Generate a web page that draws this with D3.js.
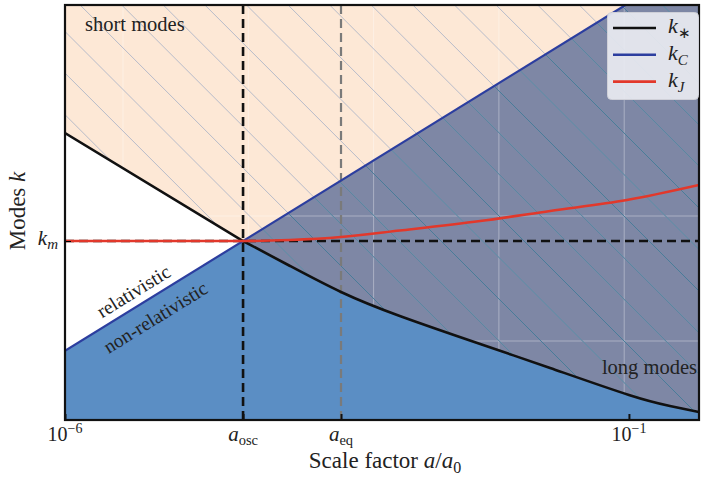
<!DOCTYPE html>
<html>
<head>
<meta charset="utf-8">
<script src="https://cdn.jsdelivr.net/npm/d3@7"></script>
<style>
  body { margin: 0; background: #fff; }
  svg { display: block; font-family: "Liberation Serif", "Times New Roman", serif; }
</style>
</head>
<body>
<svg id="chart" width="701" height="477"></svg>
<script>
// Scale factor markers and axis extent (a / a0)
const aMin = 1e-6, aMax = 0.418;
const aOsc = 3.79e-5, aEq = 2.8e-4;
// Wavenumber extent in units of k_m
const kMin = 0.00268, kMax = 2460, kM = 1;

// k_* : horizon-crossing scale, before and after oscillations start
const kStarEarlyA = [1e-6, 3.79e-5];
const kStarEarlyK = [35.6, 1];
const kStarLateA = [3.79e-5, 9.9e-5, 2.8e-4, 9.3e-4, 4.8e-3, 0.020, 0.1, 0.231, 0.418];
const kStarLateK = [1, 0.4375, 0.185, 0.0836, 0.0331, 0.01497, 0.00613, 0.00426, 0.00349];
// k_C : Compton scale (k = m a)
const kCA = [1e-6, 0.418];
const kCK = [0.0264, 11030];
// k_J : Jeans scale
const kJA = [1e-6, 3.79e-5, 9.9e-5, 2.8e-4, 9.3e-4, 4.8e-3, 0.020, 0.096, 0.418];
const kJK = [1, 1, 1.034, 1.141, 1.415, 1.938, 2.70, 3.88, 6.38];

const legendNames = ["*", "C", "J"];
const legendColors = ["#111111", "#2c3e9f", "#e2382b"];

const svg = d3.select("#chart");
const L = 65, R = 699, T = 5, B = 420;

const x = d3.scaleLog().domain([aMin, aMax]).range([L, R]);
const y = d3.scaleLog().domain([kMin, kMax]).range([B, T]);

const zip = (as, ks) => as.map((a, i) => ({ a, k: ks[i] }));
const kStarEarly = zip(kStarEarlyA, kStarEarlyK);
const kStarLate = zip(kStarLateA, kStarLateK);
const kC = zip(kCA, kCK);
const kJ = zip(kJA, kJK);

// k_* path: straight before a_osc, smooth spline after
const earlyLine = d3.line().x(d => x(d.a)).y(d => y(d.k));
const lateLine = d3.line().curve(d3.curveNatural).x(d => x(d.a)).y(d => y(d.k));
const kStarPath = earlyLine(kStarEarly) + lateLine(kStarLate).replace(/^M[^CL]*/, "");
const aboveStarPath = `M${L - 10},${T - 10}L${L - 10},${y(kStarEarlyK[0])}L` +
  kStarPath.slice(1) + `L${R + 10},${y(kStarLateK[kStarLateK.length - 1])}L${R + 10},${T - 10}Z`;

const defs = svg.append("defs");
defs.append("clipPath").attr("id", "clipPlot")
  .append("rect").attr("x", L).attr("y", T).attr("width", R - L).attr("height", B - T);

// region below k_C (non-relativistic)
const belowC = d3.area().x(d => x(d.a)).y0(B + 10).y1(d => y(d.k));

defs.append("clipPath").attr("id", "clipAbove").append("path").attr("d", aboveStarPath);
defs.append("clipPath").attr("id", "clipBelowC").append("path").attr("d", belowC(kC));

const plot = svg.append("g").attr("clip-path", "url(#clipPlot)");

plot.append("path").attr("d", aboveStarPath).attr("fill", "#fde8d6");
plot.append("path").attr("d", belowC(kC)).attr("fill", "#5b8ec4");
const overlap = plot.append("g").attr("clip-path", "url(#clipAbove)");
overlap.append("path").attr("d", belowC(kC)).attr("fill", "#7e87a5");

// faint grid, only showing through the short-mode shading
const gridX = d3.range(L + 58, R, 125.3);
const gridY = d3.range(B - 79, T + 120, -125);
const grid = plot.append("g").attr("clip-path", "url(#clipAbove)")
  .append("g").attr("stroke", "#ffffff").attr("stroke-opacity", 0.35).attr("stroke-width", 1);
grid.selectAll("line.gx").data(gridX).join("line").attr("class", "gx")
  .attr("x1", d => d).attr("x2", d => d).attr("y1", T).attr("y2", B);
grid.selectAll("line.gy").data(gridY).join("line").attr("class", "gy")
  .attr("y1", d => d).attr("y2", d => d).attr("x1", L).attr("x2", R);

// diagonal hatching over the short-mode region
const step = 41.6, phase = 33.5;
const offsets = d3.range(-Math.ceil((B - T + 40) / step) - 1, Math.ceil((R + 40) / step) + 1).map(n => phase + n * step);
function hatch(g, color) {
  g.selectAll("line").data(offsets).join("line")
    .attr("x1", c => c + T - 20).attr("y1", T - 20)
    .attr("x2", c => c + B + 20).attr("y2", B + 20)
    .attr("stroke", color).attr("stroke-width", 1);
}
const hatchAbove = plot.append("g").attr("clip-path", "url(#clipAbove)");
hatch(hatchAbove.append("g"), "#b7bbc9");
const hatchOverlap = plot.append("g").attr("clip-path", "url(#clipAbove)")
  .append("g").attr("clip-path", "url(#clipBelowC)");
hatch(hatchOverlap.append("g"), "#3f7594");

// reference lines
plot.append("line").attr("x1", L).attr("x2", R).attr("y1", y(kM)).attr("y2", y(kM))
  .attr("stroke", "#111").attr("stroke-width", 2.6).attr("stroke-dasharray", "9,5");
plot.append("line").attr("x1", x(aOsc)).attr("x2", x(aOsc)).attr("y1", T).attr("y2", B)
  .attr("stroke", "#111").attr("stroke-width", 2.6).attr("stroke-dasharray", "9,5");
plot.append("line").attr("x1", x(aEq)).attr("x2", x(aEq)).attr("y1", T).attr("y2", B)
  .attr("stroke", "#7a7a7a").attr("stroke-width", 2.2).attr("stroke-dasharray", "9,5");

// curves
plot.append("path").attr("d", d3.line().x(d => x(d.a)).y(d => y(d.k))(kC))
  .attr("fill", "none").attr("stroke", legendColors[1]).attr("stroke-width", 2.2);
plot.append("path").attr("d", kStarPath)
  .attr("fill", "none").attr("stroke", legendColors[0]).attr("stroke-width", 2.6);
plot.append("path").attr("d", d3.line().curve(d3.curveMonotoneX).x(d => x(d.a)).y(d => y(d.k))(kJ))
  .attr("fill", "none").attr("stroke", legendColors[2]).attr("stroke-width", 2.6);

// region labels
const slope = Math.atan2(y(kCK[0]) - y(kCK[1]), x(kCA[1]) - x(kCA[0])) * 180 / Math.PI;
svg.append("text").attr("x", 85).attr("y", 31).attr("font-size", 20.5).attr("fill", "#222").text("short modes");
svg.append("text").attr("x", 697).attr("y", 374).attr("text-anchor", "end").attr("font-size", 20.5).attr("fill", "#222").text("long modes");
svg.append("text").attr("transform", `translate(137,297) rotate(${-slope})`)
  .attr("text-anchor", "middle").attr("font-size", 19.5).attr("fill", "#222").text("relativistic");
svg.append("text").attr("transform", `translate(159,323) rotate(${-slope})`)
  .attr("text-anchor", "middle").attr("font-size", 19.5).attr("fill", "#222").text("non-relativistic");

// axes (inward ticks)
const xTickVals = [aMin, aOsc, aEq, 1e-1];
const xAxis = svg.append("g").attr("transform", `translate(0,${B})`)
  .call(d3.axisBottom(x).tickValues(xTickVals).tickSize(-6).tickSizeOuter(0).tickFormat(() => ""));
xAxis.select(".domain").remove();
xAxis.selectAll(".tick line").attr("stroke", "#111").attr("stroke-width", 2);

const yAxis = svg.append("g").attr("transform", `translate(${L},0)`)
  .call(d3.axisLeft(y).tickValues([kM]).tickSize(-6).tickSizeOuter(0).tickFormat(() => ""));
yAxis.select(".domain").remove();

svg.append("rect").attr("x", L).attr("y", T).attr("width", R - L).attr("height", B - T)
  .attr("fill", "none").attr("stroke", "#111").attr("stroke-width", 2.2);

// tick labels
const xLabels = [
  { v: aMin, parts: [["10", 20, 0, false], ["−6", 14, -8, false]] },
  { v: aOsc, parts: [["a", 21, 0, true], ["osc", 14.5, 4, false]] },
  { v: aEq, parts: [["a", 21, 0, true], ["eq", 14.5, 4, false]] },
  { v: 1e-1, parts: [["10", 20, 0, false], ["−1", 14, -8, false]] }
];
xLabels.forEach(l => {
  const t = svg.append("text").attr("x", x(l.v)).attr("y", 441).attr("text-anchor", "middle").attr("fill", "#222");
  let prev = 0;
  l.parts.forEach(p => {
    t.append("tspan").attr("font-size", p[1]).attr("dy", p[2] - prev)
      .attr("font-style", p[3] ? "italic" : "normal").text(p[0]);
    prev = p[2];
  });
});
const km = svg.append("text").attr("x", 58).attr("y", y(kM) + 4).attr("text-anchor", "end").attr("fill", "#222");
km.append("tspan").attr("font-size", 21).attr("font-style", "italic").text("k");
km.append("tspan").attr("font-size", 15).attr("font-style", "italic").attr("dy", 4).text("m");

// axis titles
const xt = svg.append("text").attr("x", 385).attr("y", 468).attr("text-anchor", "middle")
  .attr("font-size", 23).attr("fill", "#222");
xt.append("tspan").text("Scale factor ");
xt.append("tspan").attr("font-style", "italic").text("a");
xt.append("tspan").text("/");
xt.append("tspan").attr("font-style", "italic").text("a");
xt.append("tspan").attr("font-size", 16).attr("dy", 5).text("0");

const yt = svg.append("text").attr("transform", "translate(25,211) rotate(-90)")
  .attr("text-anchor", "middle").attr("font-size", 23).attr("fill", "#222");
yt.append("tspan").text("Modes ");
yt.append("tspan").attr("font-style", "italic").text("k");

// legend
const lg = svg.append("g");
lg.append("rect").attr("x", 607.5).attr("y", 12.5).attr("width", 91).attr("height", 87).attr("rx", 4)
  .attr("fill", "#e9eaf1").attr("fill-opacity", 0.92).attr("stroke", "#cfd0d8").attr("stroke-width", 1);
const items = lg.selectAll("g.item").data(legendNames).join("g").attr("class", "item")
  .attr("transform", (d, i) => `translate(0,${28 + i * 26.8})`);
items.append("line").attr("x1", 613).attr("x2", 656).attr("y1", 0).attr("y2", 0)
  .attr("stroke", (d, i) => legendColors[i]).attr("stroke-width", 2.6);
const lt = items.append("text").attr("x", 668).attr("y", 5).attr("fill", "#222");
lt.append("tspan").attr("font-size", 22).attr("font-style", "italic").text("k");
lt.append("tspan").attr("font-size", 15).attr("dy", 5)
  .attr("font-style", d => d === "*" ? "normal" : "italic").text(d => d === "*" ? "∗" : d);
</script>
</body>
</html>
